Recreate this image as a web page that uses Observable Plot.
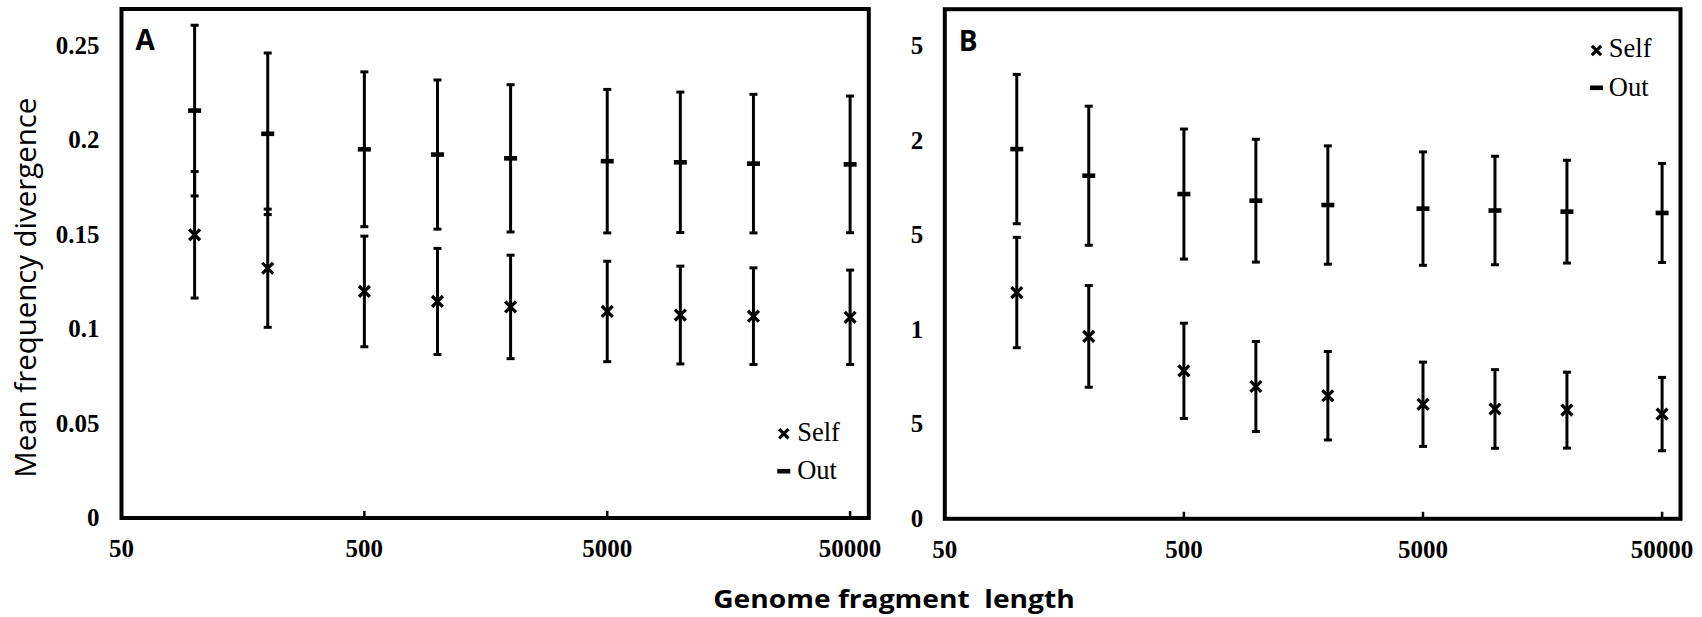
<!DOCTYPE html>
<html><head><meta charset="utf-8">
<script src="https://cdn.jsdelivr.net/npm/d3@7"></script>
<script src="https://cdn.jsdelivr.net/npm/@observablehq/plot@0.6"></script>
<style>
html,body{margin:0;padding:0;background:#fff;}
#chart{position:relative;width:1702px;height:617px;overflow:hidden;background:#fff;}
#chart svg{position:absolute;top:0;background:transparent;}
.title{position:absolute;left:0;top:0;white-space:pre;transform-origin:0 0;color:#000;display:inline-block;}
</style></head><body><div id="chart"></div>
<script>
// ---- data ----
const fragmentLengths = [100, 200, 500, 1000, 2000, 5000, 10000, 20000, 50000];
const seriesNames = ["Self", "Out"];
const panelLetters = ["A", "B"];
const xTicks = [50, 500, 5000, 50000];
const xTickLabels = ["50", "500", "5000", "50000"];
const yTicks = [0, 0.05, 0.1, 0.15, 0.2, 0.25];
const yTickLabelsA = ["0", "0.05", "0.1", "0.15", "0.2", "0.25"];
const yTickLabelsB = ["0", "5", "1", "5", "2", "5"];
const yTitle = "Mean frequency divergence";
const xTitle = "Genome fragment  length";

const outMeanA  = [0.2158, 0.2035, 0.1953, 0.1925, 0.1905, 0.1890, 0.1884, 0.1877, 0.1873];
const outErrA   = [0.0452, 0.0428, 0.0410, 0.0395, 0.0390, 0.0380, 0.0372, 0.0367, 0.0362];
const selfMeanA = [0.1500, 0.1323, 0.1200, 0.1147, 0.1118, 0.1094, 0.1075, 0.1069, 0.1063];
const selfErrA  = [0.0335, 0.0313, 0.0293, 0.0281, 0.0274, 0.0266, 0.0259, 0.0256, 0.0250];

const outMeanB  = [0.1956, 0.1815, 0.1718, 0.1683, 0.1660, 0.1641, 0.1631, 0.1625, 0.1618];
const outErrB   = [0.0395, 0.0368, 0.0344, 0.0325, 0.0313, 0.0300, 0.0287, 0.0272, 0.0262];
const selfMeanB = [0.1197, 0.0965, 0.0783, 0.0700, 0.0651, 0.0606, 0.0581, 0.0575, 0.0554];
const selfErrB  = [0.0292, 0.0269, 0.0252, 0.0238, 0.0234, 0.0223, 0.0208, 0.0201, 0.0194];

// ---- symbols ----
const dashSymbol = {draw(ctx) { ctx.rect(-6.5, -2.3, 13, 4.6); }};
const capSymbol = {draw(ctx) { ctx.rect(-4, -1.5, 8, 3); }};
const tickUpSymbol = {draw(ctx) { ctx.moveTo(0, 0); ctx.lineTo(0, -7); }};

const serif = "'Liberation Serif', 'Times New Roman', serif";
const sans = "'Open Sans', 'Noto Sans', sans-serif";

function buildRows(outMean, outErr, selfMean, selfErr) {
  const rows = [];
  fragmentLengths.forEach((x, i) => {
    rows.push({x, series: seriesNames[0], mean: selfMean[i], lo: selfMean[i] - selfErr[i], hi: selfMean[i] + selfErr[i]});
    rows.push({x, series: seriesNames[1], mean: outMean[i], lo: outMean[i] - outErr[i], hi: outMean[i] + outErr[i]});
  });
  return rows;
}

function panel(o) {
  const rows = buildRows(o.outMean, o.outErr, o.selfMean, o.selfErr);
  const L = o.legend;
  return Plot.plot({
    width: o.width, height: 570,
    marginLeft: o.marginLeft, marginRight: o.marginRight,
    marginTop: o.marginTop, marginBottom: o.marginBottom,
    x: {type: "log", domain: [50, 59700], axis: null},
    y: {domain: [0, 0.2696]},
    style: {background: "transparent", overflow: "visible"},
    marks: [
      Plot.ruleX(rows, {x: "x", y1: "lo", y2: "hi", stroke: "black", strokeWidth: 3}),
      Plot.dot(rows, {x: "x", y: "lo", symbol: capSymbol, fill: "black", stroke: "none"}),
      Plot.dot(rows, {x: "x", y: "hi", symbol: capSymbol, fill: "black", stroke: "none"}),
      Plot.dot(rows.filter(d => d.series === "Out"), {x: "x", y: "mean", symbol: dashSymbol, fill: "black", stroke: "none"}),
      Plot.dot(rows.filter(d => d.series === "Self"), {x: "x", y: "mean", symbol: "times", r: 5, stroke: "black", strokeWidth: 3.3, fill: "none"}),
      Plot.frame({stroke: "black", strokeWidth: 4}),
      Plot.dot(xTicks.slice(1), {x: d => d, y: () => 0, symbol: tickUpSymbol, stroke: "black", strokeWidth: 2.5, fill: "none"}),
      Plot.text(xTicks, {x: d => d, text: (d, i) => xTickLabels[i], frameAnchor: "bottom", dy: 21, lineAnchor: "top",
        textAnchor: "middle", fontSize: 25, fontFamily: serif, fontWeight: "bold", fill: "black"}),
      Plot.axisY({ticks: yTicks, tickFormat: d => o.yLabels[yTicks.indexOf(d)], tickSize: 0, tickPadding: o.yPad, label: null,
        fontSize: 25, fontFamily: serif, fontWeight: "bold", fill: "black"}),
      Plot.text([o.letter], {text: d => d, frameAnchor: "top-left", dx: 14, dy: 21.5, lineAnchor: "top", textAnchor: "start",
        fontSize: 28, fontWeight: "bold", fontFamily: sans, fill: "black"}),
      // legend
      Plot.dot([seriesNames[0]], {frameAnchor: L.anchor, dx: L.mx, dy: L.y1, symbol: "times", r: 4.3, stroke: "black", strokeWidth: 3.2, fill: "none"}),
      Plot.dot([seriesNames[1]], {frameAnchor: L.anchor, dx: L.mx, dy: L.y2, symbol: dashSymbol, fill: "black", stroke: "none"}),
      Plot.text([seriesNames[0]], {text: d => d, frameAnchor: L.anchor, dx: L.tx, dy: L.b1, lineAnchor: "bottom", textAnchor: "start",
        fontFamily: serif, fontSize: 26.5, fill: "black"}),
      Plot.text([seriesNames[1]], {text: d => d, frameAnchor: L.anchor, dx: L.tx, dy: L.b2, lineAnchor: "bottom", textAnchor: "start",
        fontFamily: serif, fontSize: 26.5, fill: "black"})
    ]
  });
}

const chart = document.getElementById("chart");

const svgA = panel({
  outMean: outMeanA, outErr: outErrA, selfMean: selfMeanA, selfErr: selfErrA,
  yLabels: yTickLabelsA, letter: panelLetters[0], yPad: 22,
  width: 905, marginLeft: 121, marginRight: 36.7, marginTop: 8.5, marginBottom: 52.5,
  legend: {anchor: "bottom-right", mx: -85, tx: -71.6, y1: -84.2, y2: -46.8, b1: -76.8, b2: -39.2}
});
svgA.style.left = "0px";
chart.appendChild(svgA);

const svgB = panel({
  outMean: outMeanB, outErr: outErrB, selfMean: selfMeanB, selfErr: selfErrB,
  yLabels: yTickLabelsB, letter: panelLetters[1], yPad: 21.6,
  width: 797, marginLeft: 39.3, marginRight: 22, marginTop: 8.7, marginBottom: 51.7,
  legend: {anchor: "top-right", mx: -84, tx: -71.7, y1: 41.3, y2: 78.6, b1: 48, b2: 86.3}
});
svgB.style.left = "905px";
chart.appendChild(svgB);

// ---- axis titles ----
function addTitle(text, font, lineH, baseOff, cx, cy, rotate, targetLen) {
  const el = document.createElement("span");
  el.className = "title";
  el.textContent = text;
  el.style.font = font;
  el.style.lineHeight = lineH + "px";
  chart.appendChild(el);
  const k = targetLen / el.offsetWidth;
  el.style.transform = `translate(${cx}px, ${cy}px) rotate(${rotate}deg) scaleX(${k}) translate(-50%, ${-baseOff}px)`;
}
addTitle(yTitle, `500 30px ${sans}`, 30, 26.6, 36.7, 287.7, -90, 380);
addTitle(xTitle, `700 25px ${sans}`, 25, 22.2, 894, 608, 0, 362);
</script></body></html>
